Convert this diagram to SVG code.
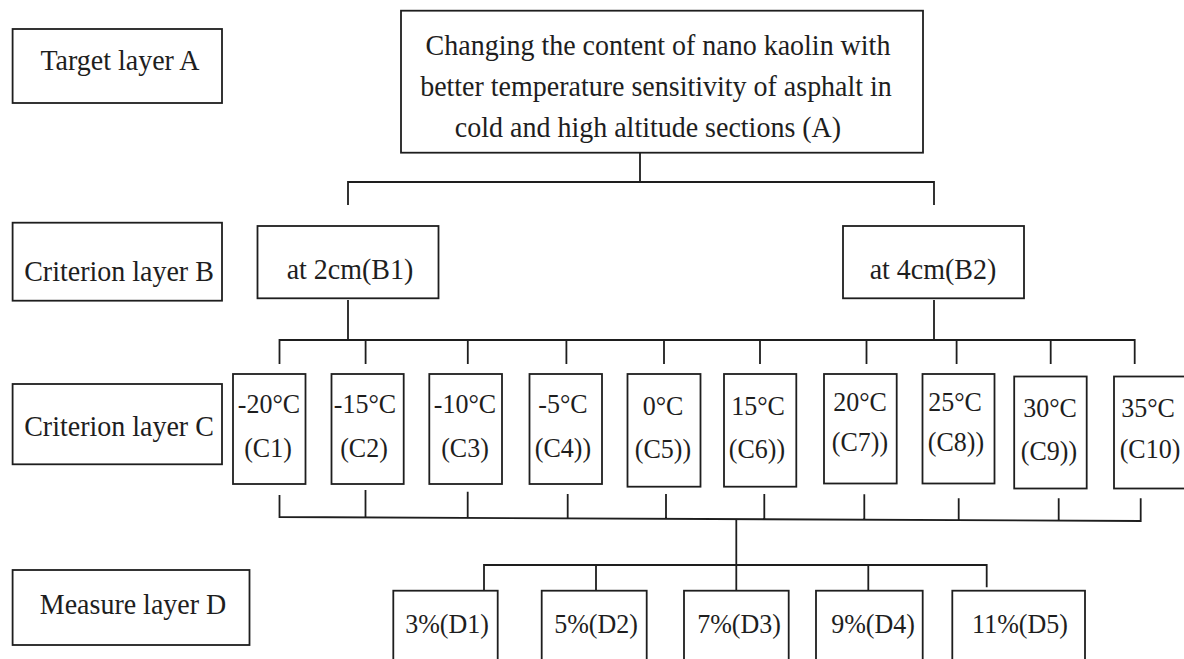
<svg xmlns="http://www.w3.org/2000/svg" width="1184" height="659" viewBox="0 0 1184 659">
<style>
.box{fill:#fff;stroke:#1e1e1e;stroke-width:1.8}
.ln{fill:none;stroke:#1e1e1e;stroke-width:1.8}
text{font-family:"Liberation Serif","Times New Roman",serif;fill:#1e1e1e;text-anchor:middle}
.lg{font-size:28px}
.sm{font-size:26px}
</style>
<rect width="1184" height="659" fill="#fff"/>
<g id="connectors">
<path class="ln" d="M640,153 V182 M348,205 V182 H934 V205"/>
<path class="ln" d="M348,300 V340 M934,300 V340 M279.5,364 V340 H1134.7 V364 M365.6,340 V364 M467.8,340 V364 M566.4,340 V364 M664,340 V364 M760,340 V364 M866.5,340 V364 M956.6,340 V364 M1050.7,340 V364"/>
<path class="ln" d="M279.5,495 V517 L1140.7,521 V498.3 M365.5,490 V517.4 M467.7,491.7 V517.9 M567.7,494 V518.3 M666,494 V518.8 M764.3,494 V519.2 M864.3,494.3 V519.7 M958.7,498.3 V520.2 M1058.7,498.3 V520.6"/>
<path class="ln" d="M736.3,519.5 V590.7 M484,590.7 V565 H986.7 V587.3 M596,565 V590.7 M868.3,565 V590.7"/>
</g>
<g id="label-A"><rect class="box" x="12.6" y="29" width="209.4" height="74"/><text class="lg" transform="translate(120 70) scale(1 1.08)">Target layer A</text></g>
<g id="label-B"><rect class="box" x="12.6" y="222.7" width="209.4" height="78"/><text class="lg" transform="translate(119 281) scale(1 1.08)">Criterion layer B</text></g>
<g id="label-C"><rect class="box" x="12.6" y="384" width="209.4" height="80.3"/><text class="lg" transform="translate(119 436) scale(1 1.08)">Criterion layer C</text></g>
<g id="label-D"><rect class="box" x="12.6" y="570" width="236.9" height="75"/><text class="lg" transform="translate(133 614) scale(1 1.08)">Measure layer D</text></g>
<g id="A"><rect class="box" x="401" y="10.7" width="522" height="142"/>
<text class="lg" transform="translate(658 55) scale(1 1.08)">Changing the content of nano kaolin with</text>
<text class="lg" transform="translate(656 96) scale(1 1.08)">better temperature sensitivity of asphalt in</text>
<text class="lg" transform="translate(648 137) scale(1 1.08)">cold and high altitude sections (A)</text></g>
<g id="B1"><rect class="box" x="257.5" y="226" width="181" height="72.3"/><text class="lg" transform="translate(350 279) scale(1 1.08)">at 2cm(B1)</text></g>
<g id="B2"><rect class="box" x="843" y="226" width="181" height="72.3"/><text class="lg" transform="translate(933 279) scale(1 1.08)">at 4cm(B2)</text></g>
<g id="C1"><rect class="box" x="233" y="374" width="72.5" height="110"/><text class="sm" transform="translate(269 413) scale(1 1.08)">-20°C</text><text class="sm" transform="translate(268 457) scale(1 1.08)">(C1)</text></g>
<g id="C2"><rect class="box" x="331.5" y="374" width="72.2" height="110"/><text class="sm" transform="translate(365 413) scale(1 1.08)">-15°C</text><text class="sm" transform="translate(364 457) scale(1 1.08)">(C2)</text></g>
<g id="C3"><rect class="box" x="429.3" y="374" width="72.7" height="110"/><text class="sm" transform="translate(465 413) scale(1 1.08)">-10°C</text><text class="sm" transform="translate(465 457) scale(1 1.08)">(C3)</text></g>
<g id="C4"><rect class="box" x="529.5" y="374" width="72.5" height="110"/><text class="sm" transform="translate(563 413) scale(1 1.08)">-5°C</text><text class="sm" transform="translate(563 457) scale(1 1.08)">(C4))</text></g>
<g id="C5"><rect class="box" x="627.5" y="374" width="73" height="112.7"/><text class="sm" transform="translate(663 415) scale(1 1.08)">0°C</text><text class="sm" transform="translate(663 458) scale(1 1.08)">(C5))</text></g>
<g id="C6"><rect class="box" x="724" y="374" width="72.3" height="112.7"/><text class="sm" transform="translate(758 415) scale(1 1.08)">15°C</text><text class="sm" transform="translate(757 458) scale(1 1.08)">(C6))</text></g>
<g id="C7"><rect class="box" x="824" y="374" width="72.7" height="109.5"/><text class="sm" transform="translate(860 411) scale(1 1.08)">20°C</text><text class="sm" transform="translate(860 451) scale(1 1.08)">(C7))</text></g>
<g id="C8"><rect class="box" x="922.5" y="374" width="72" height="109.5"/><text class="sm" transform="translate(955 411) scale(1 1.08)">25°C</text><text class="sm" transform="translate(956 451) scale(1 1.08)">(C8))</text></g>
<g id="C9"><rect class="box" x="1014.2" y="376.5" width="72.5" height="112"/><text class="sm" transform="translate(1050 417) scale(1 1.08)">30°C</text><text class="sm" transform="translate(1049 460) scale(1 1.08)">(C9))</text></g>
<g id="C10"><rect class="box" x="1114" y="376.5" width="72" height="112"/><text class="sm" transform="translate(1148 417) scale(1 1.08)">35°C</text><text class="sm" transform="translate(1150 458) scale(1 1.08)">(C10)</text></g>
<g id="D1"><rect class="box" x="393.3" y="590.7" width="104.4" height="80"/><text class="sm" transform="translate(447 633) scale(1 1.08)">3%(D1)</text></g>
<g id="D2"><rect class="box" x="541.7" y="590.7" width="105" height="80"/><text class="sm" transform="translate(596 633) scale(1 1.08)">5%(D2)</text></g>
<g id="D3"><rect class="box" x="684" y="590.7" width="104.7" height="80"/><text class="sm" transform="translate(739 633) scale(1 1.08)">7%(D3)</text></g>
<g id="D4"><rect class="box" x="816" y="590.7" width="106.7" height="80"/><text class="sm" transform="translate(873 633) scale(1 1.08)">9%(D4)</text></g>
<g id="D5"><rect class="box" x="952.3" y="590.7" width="132.7" height="80"/><text class="sm" transform="translate(1020 633) scale(1 1.08)">11%(D5)</text></g>
</svg>
